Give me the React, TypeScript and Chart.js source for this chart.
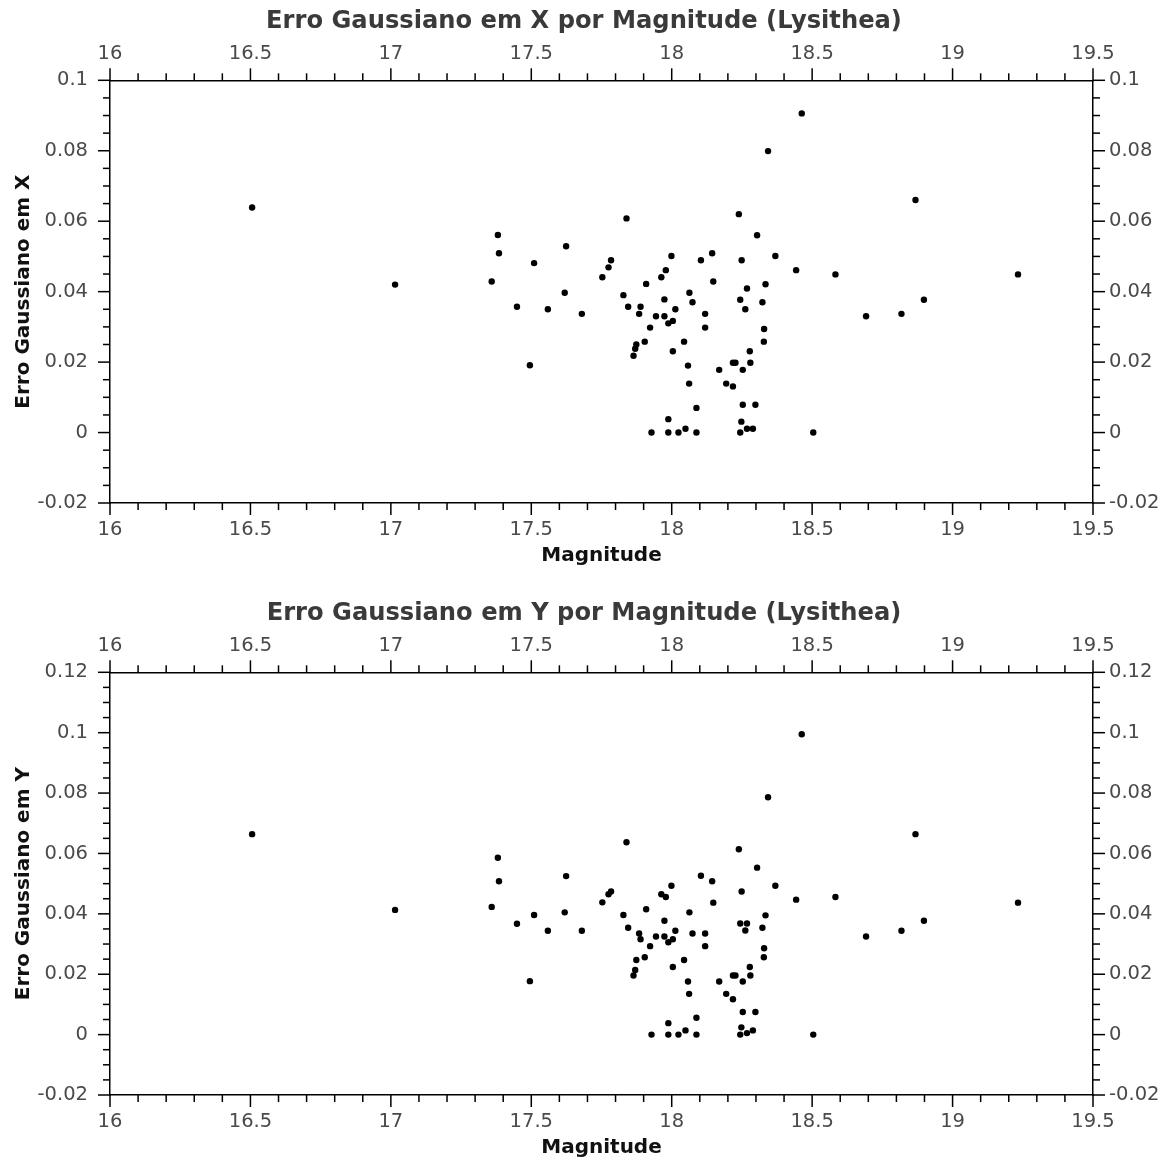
import React, { useEffect, useRef } from 'react';
import { Chart, registerables } from 'chart.js';

Chart.register(...registerables);

// ---------- data ----------
const magnitude = [
  16.506, 17.015, 18.463, 18.343, 18.868, 19.233, 18.898, 18.692, 18.818, 18.583,
  18.504, 18.443, 18.369, 18.334, 18.329, 18.328, 18.323, 18.304, 18.298, 18.289,
  18.280, 18.278, 18.268, 18.268, 18.262, 18.253, 18.253, 18.249, 18.248, 18.244,
  18.244, 18.239, 18.227, 18.218, 18.218, 18.194, 18.169, 18.148, 18.144, 18.119,
  18.119, 18.104, 18.088, 18.088, 18.074, 18.063, 18.062, 18.058, 18.049, 18.044,
  18.024, 18.013, 18.004, 18.004, 17.999, 17.988, 17.988, 17.988, 17.979, 17.974,
  17.974, 17.963, 17.944, 17.928, 17.923, 17.909, 17.904, 17.889, 17.884, 17.874,
  17.870, 17.864, 17.845, 17.839, 17.828, 17.784, 17.775, 17.753, 17.680, 17.624,
  17.619, 17.559, 17.510, 17.495, 17.449, 17.385, 17.381, 17.359,
];

const erroX = [
  0.0639, 0.0420, 0.0906, 0.0799, 0.0660, 0.0449, 0.0377, 0.0330, 0.0337, 0.0449,
  0.0, 0.0461, 0.0501, 0.0421, 0.0294, 0.0258, 0.0370, 0.0560, 0.0079, 0.0011,
  0.0198, 0.0231, 0.0011, 0.0409, 0.0350, 0.0178, 0.0079, 0.0489, 0.0031, 0.0,
  0.0377, 0.0620, 0.0198, 0.0198, 0.0131, 0.0139, 0.0178, 0.0429, 0.0509, 0.0337,
  0.0298, 0.0489, 0.0070, 0.0, 0.0370, 0.0397, 0.0139, 0.0190, 0.0011, 0.0258,
  0.0, 0.0350, 0.0317, 0.0231, 0.0501, 0.0310, 0.0038, 0.0, 0.0461, 0.0378,
  0.0330, 0.0441, 0.0330, 0.0, 0.0298, 0.0422, 0.0258, 0.0357, 0.0337, 0.0250,
  0.0238, 0.0218, 0.0357, 0.0608, 0.0390, 0.0489, 0.0469, 0.0441, 0.0337, 0.0529,
  0.0397, 0.0350, 0.0481, 0.0191, 0.0357, 0.0509, 0.0561, 0.0429,
];

const erroY = [
  0.0664, 0.0413, 0.0995, 0.0786, 0.0664, 0.0437, 0.0377, 0.0325, 0.0344, 0.0456,
  0.0, 0.0447, 0.0493, 0.0395, 0.0286, 0.0256, 0.0354, 0.0553, 0.0075, 0.0014,
  0.0196, 0.0224, 0.0005, 0.0368, 0.0345, 0.0176, 0.0075, 0.0474, 0.0024, 0.0,
  0.0368, 0.0614, 0.0196, 0.0196, 0.0117, 0.0135, 0.0176, 0.0437, 0.0508, 0.0335,
  0.0293, 0.0526, 0.0056, 0.0, 0.0335, 0.0405, 0.0135, 0.0176, 0.0014, 0.0247,
  0.0, 0.0344, 0.0316, 0.0224, 0.0493, 0.0306, 0.0038, 0.0, 0.0456, 0.0377,
  0.0325, 0.0465, 0.0325, 0.0, 0.0293, 0.0415, 0.0256, 0.0316, 0.0335, 0.0247,
  0.0214, 0.0196, 0.0354, 0.0637, 0.0396, 0.0474, 0.0465, 0.0438, 0.0344, 0.0525,
  0.0405, 0.0344, 0.0396, 0.0177, 0.0367, 0.0508, 0.0586, 0.0423,
];

const xMajorTicks = [16, 16.5, 17, 17.5, 18, 18.5, 19, 19.5];
const xMinorStep = 0.1;
const yMajorTicksX = [-0.02, 0, 0.02, 0.04, 0.06, 0.08, 0.1];
const yMajorTicksY = [-0.02, 0, 0.02, 0.04, 0.06, 0.08, 0.1, 0.12];
const yMinorStep = 0.005;

const titleX = 'Erro Gaussiano em X por Magnitude (Lysithea)';
const titleY = 'Erro Gaussiano em Y por Magnitude (Lysithea)';
const axisTitleX = 'Magnitude';
const yTitleX = 'Erro Gaussiano em X';
const yTitleY = 'Erro Gaussiano em Y';

// ---------- helpers ----------
const FONT = '"DejaVu Sans", "Liberation Sans", sans-serif';
const W = 1168;
const H = 570;
const FRAME_LEFT = 110;
const FRAME_RIGHT = 1093;
const FRAME_TOP = 80.3;
const FRAME_BOTTOM = 503;
const TITLE_PAD_TOP = 7;
const TITLE_SIZE = 24.2;
const MAJOR_LEN = 12;
const MINOR_LEN = 7;

function withMinors(majors: number[], step: number): number[] {
  const out: number[] = [];
  for (let i = 0; i < majors.length; i++) {
    out.push(majors[i]);
    if (i < majors.length - 1) {
      const n = Math.round((majors[i + 1] - majors[i]) / step);
      for (let k = 1; k < n; k++) out.push(+(majors[i] + k * step).toFixed(6));
    }
  }
  return out;
}

const isIn = (arr: number[], v: number) => arr.some((m) => Math.abs(m - v) < 1e-9);
const fmt = (v: number) => String(+Number(v).toFixed(4));

type PanelProps = {
  title: string;
  yTitle: string;
  values: number[];
  yMajors: number[];
};

function Panel({ title, yTitle, values, yMajors }: PanelProps) {
  const ref = useRef<HTMLCanvasElement | null>(null);

  useEffect(() => {
    if (!ref.current) return;
    const xTicks = withMinors(xMajorTicks, xMinorStep);
    const yTicks = withMinors(yMajors, yMinorStep);
    const yMin = yMajors[0];
    const yMax = yMajors[yMajors.length - 1];
    const titleBox = TITLE_SIZE * 1.2 + TITLE_PAD_TOP;

    const tickFont = { family: FONT, size: 19.5 };
    const tickColor = '#4a4a4a';
    const border = { display: true, color: '#000', width: 1.5 };
    const grid = { drawOnChartArea: false, drawTicks: true, tickLength: MAJOR_LEN, tickColor: 'rgba(0,0,0,0)' };

    const xScale = (position: string, height: number, withTitle: boolean) => ({
      type: 'linear',
      position,
      min: xMajorTicks[0],
      max: xMajorTicks[xMajorTicks.length - 1],
      afterBuildTicks: (s: any) => { s.ticks = xTicks.map((v) => ({ value: v })); },
      afterFit: (s: any) => { s.height = height; },
      ticks: {
        autoSkip: false,
        maxRotation: 0,
        minRotation: 0,
        padding: 3,
        color: tickColor,
        font: tickFont,
        callback: (v: any) => (isIn(xMajorTicks, Number(v)) ? fmt(Number(v)) : ''),
      },
      grid,
      border,
      title: withTitle
        ? {
            display: true,
            text: axisTitleX,
            color: '#111',
            font: { family: FONT, size: 20, weight: 'bold' },
            padding: { top: 0, bottom: 2.5 },
          }
        : { display: false },
    });

    const yScale = (position: string, width: number, withTitle: boolean, pad: number) => ({
      type: 'linear',
      position,
      min: yMin,
      max: yMax,
      afterBuildTicks: (s: any) => { s.ticks = yTicks.map((v) => ({ value: v })); },
      afterFit: (s: any) => { s.width = width; },
      ticks: {
        autoSkip: false,
        padding: pad,
        color: tickColor,
        font: tickFont,
        callback: (v: any) => (isIn(yMajors, Number(v)) ? fmt(Number(v)) : ''),
      },
      grid,
      border,
      title: withTitle
        ? {
            display: true,
            text: yTitle,
            color: '#111',
            font: { family: FONT, size: 20, weight: 'bold' },
            padding: { top: 12, bottom: 0 },
          }
        : { display: false },
    });

    const tickPlugin = {
      id: 'frameTicks',
      afterDraw(chart: any) {
        const ctx = chart.ctx;
        const a = chart.chartArea;
        ctx.save();
        ctx.strokeStyle = '#000';
        ctx.lineWidth = 1.5;
        for (const id of Object.keys(chart.scales)) {
          const s = chart.scales[id];
          const majors = s.axis === 'x' ? xMajorTicks : yMajors;
          for (const t of s.ticks) {
            const len = isIn(majors, t.value) ? MAJOR_LEN : MINOR_LEN;
            const p = s.getPixelForValue(t.value);
            ctx.beginPath();
            if (s.position === 'bottom') { ctx.moveTo(p, a.bottom); ctx.lineTo(p, a.bottom + len); }
            else if (s.position === 'top') { ctx.moveTo(p, a.top); ctx.lineTo(p, a.top - len); }
            else if (s.position === 'left') { ctx.moveTo(a.left, p); ctx.lineTo(a.left - len, p); }
            else { ctx.moveTo(a.right, p); ctx.lineTo(a.right + len, p); }
            ctx.stroke();
          }
        }
        ctx.restore();
      },
    };

    const chart = new Chart(ref.current, {
      type: 'scatter',
      data: {
        datasets: [
          {
            data: magnitude.map((m, i) => ({ x: m, y: values[i] })),
            pointRadius: 3.2,
            pointHoverRadius: 3.2,
            backgroundColor: '#000',
            borderWidth: 0,
          },
        ],
      },
      options: {
        responsive: false,
        animation: false,
        layout: { padding: 0 },
        plugins: {
          legend: { display: false },
          tooltip: { enabled: false },
          title: {
            display: true,
            text: title,
            color: '#3a3a3a',
            font: { family: FONT, size: TITLE_SIZE, weight: 'bold' },
            padding: { top: TITLE_PAD_TOP, bottom: 0 },
          },
        },
        scales: {
          x: xScale('bottom', H - FRAME_BOTTOM, true),
          x2: xScale('top', FRAME_TOP - titleBox, false),
          y: yScale('left', FRAME_LEFT, true, 10),
          y2: yScale('right', W - FRAME_RIGHT, false, 4),
        } as any,
      },
      plugins: [tickPlugin],
    } as any);

    return () => chart.destroy();
  }, [title, yTitle, values, yMajors]);

  return <canvas ref={ref} width={W} height={H} style={{ display: 'block', width: W, height: H }} />;
}

export default function App() {
  return (
    <div style={{ position: 'absolute', left: 0, top: 0, width: W, height: 1162, background: '#fff' }}>
      <div style={{ position: 'absolute', left: 0, top: 0 }}>
        <Panel title={titleX} yTitle={yTitleX} values={erroX} yMajors={yMajorTicksX} />
      </div>
      <div style={{ position: 'absolute', left: 0, top: 592 }}>
        <Panel title={titleY} yTitle={yTitleY} values={erroY} yMajors={yMajorTicksY} />
      </div>
    </div>
  );
}
